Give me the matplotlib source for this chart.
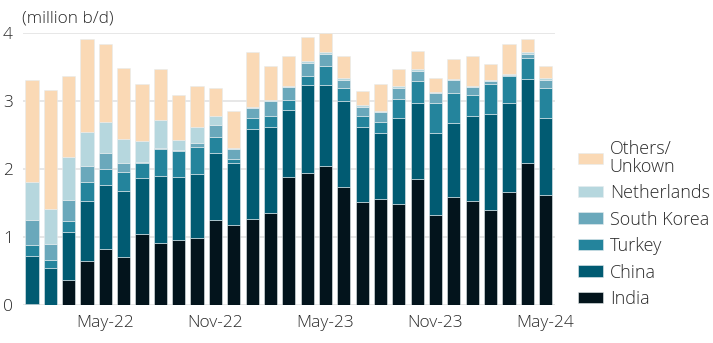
import matplotlib
matplotlib.use("Agg")
import matplotlib.pyplot as plt
import numpy as np

plt.rcParams['font.family'] = ['Open Sans', 'DejaVu Sans']
plt.rcParams['font.weight'] = 'light'

# monthly, Jan-22 .. May-24
months = ["Jan-22", "Feb-22", "Mar-22", "Apr-22", "May-22", "Jun-22", "Jul-22", "Aug-22",
          "Sep-22", "Oct-22", "Nov-22", "Dec-22", "Jan-23", "Feb-23", "Mar-23", "Apr-23",
          "May-23", "Jun-23", "Jul-23", "Aug-23", "Sep-23", "Oct-23", "Nov-23", "Dec-23",
          "Jan-24", "Feb-24", "Mar-24", "Apr-24", "May-24"]

# cumulative tops (million b/d)
india_top = [0.02, 0.00, 0.36, 0.64, 0.82, 0.70, 1.04, 0.91, 0.95, 0.99, 1.25, 1.17, 1.27, 1.35,
             1.88, 1.94, 2.04, 1.73, 1.51, 1.56, 1.49, 1.85, 1.32, 1.58, 1.53, 1.39, 1.66, 2.09, 1.61]
china_top = [0.72, 0.54, 1.07, 1.53, 1.76, 1.68, 1.87, 1.90, 1.88, 1.93, 2.23, 2.08, 2.58, 2.61,
             2.86, 3.23, 3.23, 2.99, 2.62, 2.53, 2.74, 2.96, 2.52, 2.68, 2.77, 2.80, 2.97, 3.32, 2.74]
turkey_top = [0.88, 0.66, 1.24, 1.80, 2.00, 1.96, 2.08, 2.29, 2.26, 2.32, 2.47, 2.15, 2.75, 2.78,
              3.01, 3.36, 3.51, 3.18, 2.78, 2.69, 3.02, 3.29, 2.96, 3.12, 3.09, 3.24, 3.37, 3.63, 3.19]
korea_top = [1.25, 0.89, 1.54, 2.04, 2.23, 2.08, 2.10, 2.31, 2.28, 2.38, 2.64, 2.29, 2.89, 2.99,
             3.20, 3.56, 3.69, 3.31, 2.91, 2.83, 3.19, 3.44, 3.11, 3.30, 3.20, 3.29, 3.38, 3.69, 3.31]
neth_top = [1.81, 1.41, 2.18, 2.54, 2.69, 2.44, 2.41, 2.72, 2.43, 2.62, 2.78, 2.31, 2.91, 3.01,
            3.22, 3.58, 3.71, 3.33, 2.94, 2.85, 3.21, 3.46, 3.13, 3.32, 3.22, 3.30, 3.39, 3.71, 3.34]
others_top = [3.30, 3.16, 3.37, 3.90, 3.84, 3.48, 3.24, 3.47, 3.08, 3.22, 3.19, 2.85, 3.71, 3.51,
              3.65, 3.94, 3.99, 3.66, 3.15, 3.25, 3.47, 3.73, 3.34, 3.62, 3.66, 3.54, 3.83, 3.91, 3.51]

series = ["India", "China", "Turkey", "South Korea", "Netherlands", "Others/\nUnkown"]
tops = [india_top, china_top, turkey_top, korea_top, neth_top, others_top]
colors = ["#03141C", "#015B72", "#24849C", "#6AA8BB", "#B6D7DE", "#FAD9B5"]

tick_labels = ["May-22", "Nov-22", "May-23", "Nov-23", "May-24"]

fig = plt.figure(figsize=(7.13, 3.43), dpi=100)
ax = fig.add_axes([0.0318, 0.1108, 0.746, 0.794])

x = np.arange(len(months))
prev = np.zeros(len(months))
handles = []
for name, top, col in zip(series, tops, colors):
    top = np.array(top)
    h = ax.bar(x, top - prev, bottom=prev, width=0.72, color=col, label=name,
               edgecolor="#e6ecee", linewidth=0.4, zorder=3)
    handles.append(h)
    prev = top

ax.set_ylim(0, 4)
ax.set_xlim(-0.51, 28.49)
ax.set_yticks([0, 1, 2, 3, 4])
ax.yaxis.grid(True, color="#e3e3e3", linewidth=1.2, zorder=0)
ax.set_xticks([months.index(t) for t in tick_labels])
ax.set_xticklabels(tick_labels)
ax.tick_params(axis="both", length=0, labelsize=12.5, colors="#2a2a2a")
ax.tick_params(axis="y", pad=7)
ax.tick_params(axis="x", pad=7)
for s in ax.spines.values():
    s.set_visible(False)

fig.text(0.031, 0.945, "(million b/d)", fontsize=12.5, color="#2a2a2a", va="center", ha="left")

leg = fig.legend(handles[::-1], series[::-1], loc="upper left", bbox_to_anchor=(0.811, 0.593),
                 frameon=False, fontsize=13, handlelength=1.35, handleheight=0.6,
                 labelspacing=0.47, handletextpad=0.4, borderaxespad=0, borderpad=0)
for t in leg.get_texts():
    t.set_color("#2a2a2a")
    t.set_linespacing(1.0)

fig.savefig("out.png", dpi=100)
